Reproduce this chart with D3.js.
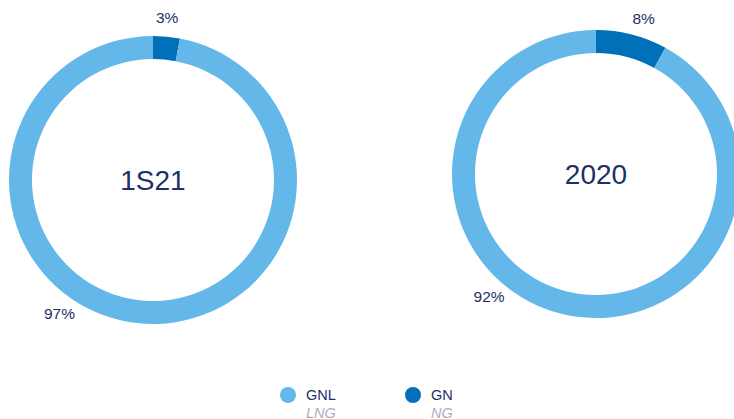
<!DOCTYPE html>
<html>
<head>
<meta charset="utf-8">
<script src="https://cdn.jsdelivr.net/npm/d3@7"></script>
<style>
    html, body { margin: 0; padding: 0; background: #fff; overflow: hidden; }
    svg { display: block; font-family: "Liberation Sans", Arial, sans-serif; }
</style>
</head>
<body>
<div id="chart"></div>
<script>
// data
const periods = ["1S21", "2020"];
const categories = ["GNL", "GN"];
const categoriesEn = ["LNG", "NG"];
const shareGNL = [97, 92];
const shareGN = [3, 8];

const width = 734, height = 419;
const colors = ["#63b8e9", "#0070b8"];
const navy = "#1c2f66";

// layout of each donut: center and label angles (deg) for [GNL, GN]
const centers = [[153, 180], [596, 174]];
const labelAngles = [[215, 5], [221, 17]];
const outerR = 144, innerR = 121, labelR = 163;

const svg = d3.select("#chart").append("svg")
    .attr("width", width)
    .attr("height", height)
    .attr("viewBox", `0 0 ${width} ${height}`);

const pie = d3.pie()
    .sort(null)
    .value(d => d.value);

// GN comes first clockwise from the top, then GNL
const arc = d3.arc().innerRadius(innerR).outerRadius(outerR);

periods.forEach((p, i) => {
    const data = [
        { key: "GN", value: shareGN[i], color: colors[1], angle: labelAngles[i][1] },
        { key: "GNL", value: shareGNL[i], color: colors[0], angle: labelAngles[i][0] }
    ];
    const g = svg.append("g")
        .attr("transform", `translate(${centers[i][0]},${centers[i][1]})`);

    g.selectAll("path")
        .data(pie(data))
        .join("path")
        .attr("d", arc)
        .attr("fill", d => d.data.color);

    g.selectAll("text.pct")
        .data(data)
        .join("text")
        .attr("class", "pct")
        .attr("x", d => labelR * Math.sin(d.angle * Math.PI / 180))
        .attr("y", d => -labelR * Math.cos(d.angle * Math.PI / 180))
        .attr("dy", "0.35em")
        .attr("text-anchor", "middle")
        .attr("font-size", 15.5)
        .attr("fill", navy)
        .text(d => d.value + "%");

    g.append("text")
        .attr("y", 0)
        .attr("dy", "0.36em")
        .attr("text-anchor", "middle")
        .attr("font-size", 28)
        .attr("fill", navy)
        .text(p);
});

// legend
const legend = svg.append("g").attr("transform", "translate(288,395)");
const item = legend.selectAll("g")
    .data(categories)
    .join("g")
    .attr("transform", (d, i) => `translate(${i * 125},0)`);

item.append("circle")
    .attr("r", 8)
    .attr("fill", (d, i) => colors[i]);

item.append("text")
    .attr("x", 18)
    .attr("y", 5)
    .attr("font-size", 14.5)
    .attr("fill", navy)
    .text(d => d);

item.append("text")
    .attr("x", 18)
    .attr("y", 22.5)
    .attr("font-size", 14.5)
    .attr("font-style", "italic")
    .attr("fill", "#a9afbd")
    .text((d, i) => categoriesEn[i]);
</script>
</body>
</html>
